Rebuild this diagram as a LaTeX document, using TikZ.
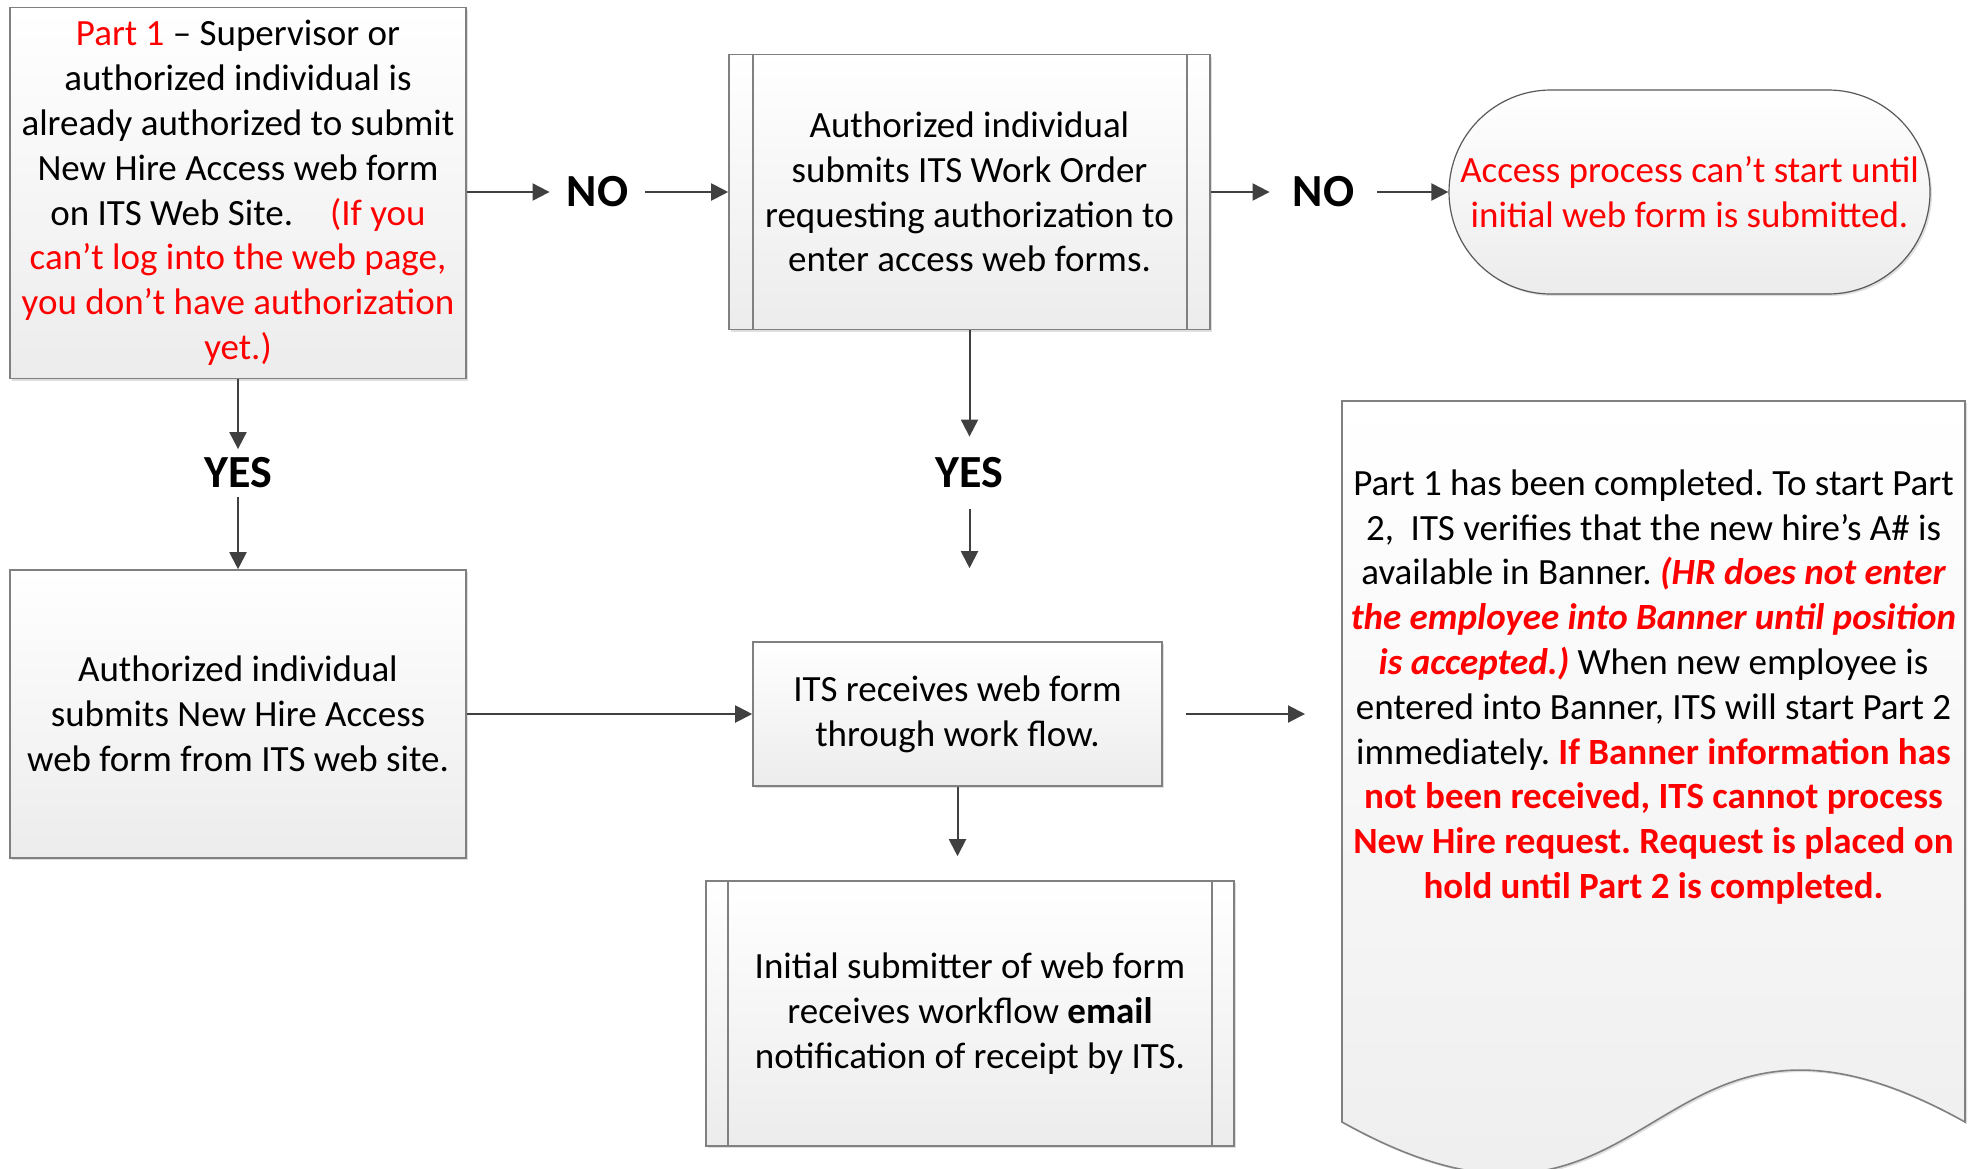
\documentclass[tikz,border=0pt]{standalone}
\usepackage{fontspec}
\setmainfont{Carlito}
\usepackage{tikz}
\usetikzlibrary{arrows.meta,shadows}
\frenchspacing

\definecolor{boxline}{RGB}{128,128,128}
\definecolor{arrowgray}{RGB}{64,64,64}
\definecolor{boxbottom}{RGB}{236,236,236}
\definecolor{notered}{RGB}{255,0,0}
\newcommand{\rd}[1]{\textcolor{notered}{#1}}
\newcommand{\rdb}[1]{\textcolor{notered}{\bfseries #1}}
\newcommand{\rdbi}[1]{\textcolor{notered}{\bfseries\itshape #1}}

\begin{document}
\begin{tikzpicture}[x=0.5pt, y=-0.5pt,
    stepbox/.style={draw=boxline, line width=0.8pt, top color=white,
      bottom color=boxbottom, inner sep=0pt, align=center,
      drop shadow={shadow xshift=1pt, shadow yshift=-1pt, fill=black!25, opacity=0.5},
      font=\fontsize{18.5}{22.4}\selectfont},
    answer/.style={inner sep=0pt, font=\fontsize{23}{27}\selectfont\bfseries},
    flow/.style={draw=arrowgray, line width=1pt, -{Triangle[length=8.5pt, width=8.5pt]}},
    sidebar/.style={draw=boxline, line width=0.8pt}]
  \useasboundingbox (0,0) rectangle (1979,1168);

  % first question
  \node[stepbox, minimum width=228pt, minimum height=185.5pt] (part1) at (238,193)
    {\rd{Part 1} – Supervisor or\\ authorized individual is\\
     already authorized to submit\\ New Hire Access web form\\
     on ITS Web Site.\quad\rd{(If you}\\ \rd{can’t log into the web page,}\\
     \rd{you don’t have authorization}\\ \rd{yet.)}};

  % work order box (predefined process)
  \node[stepbox, minimum width=240.5pt, minimum height=137.5pt] (authreq) at (969.5,192)
    {Authorized individual\\ submits ITS Work Order\\
     requesting authorization to\\ enter access web forms.};
  \draw[sidebar] ([xshift=12.5pt]authreq.north west) -- ([xshift=12.5pt]authreq.south west);
  \draw[sidebar] ([xshift=-12pt]authreq.north east) -- ([xshift=-12pt]authreq.south east);

  % terminal
  \node[stepbox, draw=black!65, line width=0.6pt, rounded corners=51pt,
    minimum width=240.5pt, minimum height=102pt] (nostart) at (1689.5,192)
    {\rd{Access process can’t start until}\\ \rd{initial web form is submitted.}};

  % second row
  \node[stepbox, minimum width=228pt, minimum height=144pt] (submit) at (238,714)
    {Authorized individual\\ submits New Hire Access\\ web form from ITS web site.};
  \node[stepbox, minimum width=204.5pt, minimum height=72pt] (receive) at (957.5,714)
    {ITS receives web form\\ through work flow.};

  % notification box (predefined process)
  \node[stepbox, minimum width=264pt, minimum height=132.5pt] (notify) at (970,1013.5)
    {Initial submitter of web form\\ receives workflow \textbf{email}\\
     notification of receipt by ITS.};
  \draw[sidebar] ([xshift=11.5pt]notify.north west) -- ([xshift=11.5pt]notify.south west);
  \draw[sidebar] ([xshift=-11.5pt]notify.north east) -- ([xshift=-11.5pt]notify.south east);

  % document shape
  \coordinate (docleft) at (1342,401);
  \path[draw=boxline, line width=0.8pt, top color=white, bottom color=boxbottom,
      drop shadow={shadow xshift=1pt, shadow yshift=-1pt, fill=black!25, opacity=0.5}]
    (docleft) -- (1965,401) -- (1965,1122)
    .. controls (1643,942) and (1664,1302) .. (1342,1122) -- cycle;
  \node[align=center, inner sep=0pt, font=\fontsize{18.5}{22.4}\selectfont] (banner) at (1653.5,687)
    {Part 1 has been completed. To start Part\\
     2,\ \ ITS verifies that the new hire’s A\# is\\
     available in Banner. \rdbi{(HR does not enter}\\
     \rdbi{the employee into Banner until position}\\
     \rdbi{is accepted.)} When new employee is\\
     entered into Banner, ITS will start Part 2\\
     immediately. \rdb{If Banner information has}\\
     \rdb{not been received, ITS cannot process}\\
     \rdb{New Hire request. Request is placed on}\\
     \rdb{hold until Part 2 is completed.}};

  % answers
  \node[answer, minimum width=47.5pt] (no1) at (597.5,192) {NO};
  \node[answer, minimum width=53.5pt] (no2) at (1323.5,192) {NO};
  \node[answer, minimum height=23.5pt] (yes1) at (238,473) {YES};
  \node[answer, minimum height=36pt] (yes2) at (969.5,473) {YES};

  % connectors
  \draw[flow] (part1.east |- no1) -- (no1);
  \draw[flow] (no1) -- (authreq);
  \draw[flow] (authreq) -- (no2);
  \draw[flow] (no2) -- (nostart);
  \draw[flow] (part1) -- (yes1);
  \draw[flow] (yes1) -- (submit);
  \draw[flow] (authreq) -- (yes2);
  \draw[flow, shorten >=36.5pt] (yes2) -- (yes2 |- receive.north);
  \draw[flow] (submit) -- (receive);
  \draw[flow, shorten <=11.5pt, shorten >=18.5pt] (receive) -- (receive -| docleft);
  \draw[flow, shorten >=12pt] (receive.south) -- (receive.south |- notify.north);
\end{tikzpicture}
\end{document}
